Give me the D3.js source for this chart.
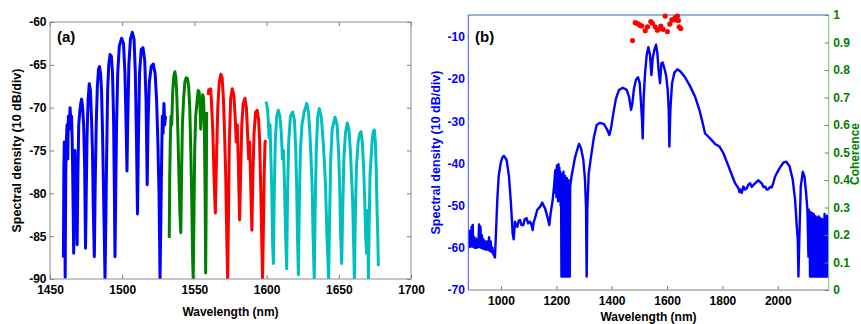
<!DOCTYPE html>
<html><head><meta charset="utf-8">
<script src="https://cdn.jsdelivr.net/npm/d3@7"></script>
<style>
html,body{margin:0;padding:0;background:#fff;}
svg{display:block;font-family:"Liberation Sans",Arial,sans-serif;font-weight:bold;}
</style></head><body>
<svg id="c" width="861" height="324"></svg>
<script>
// ---------- Panel (a) data: [wavelength nm, dB] ----------
const aXTicks = [1450,1500,1550,1600,1650,1700];
const aYTicks = [-90,-85,-80,-75,-70,-65,-60];
const aBlue = [[1459.3,-87.5],[1459.6,-77],[1459.9,-74],[1460.2,-80],[1460.5,-89.8],[1460.9,-78],[1461.3,-74],[1461.8,-72],[1462.3,-76],[1462.7,-71],[1463.3,-72.5],[1463.9,-70],[1464.4,-71.5],[1464.9,-71],[1465.4,-74],[1465.9,-80],[1466.4,-87],[1466.9,-80],[1467.3,-75],[1467.8,-78],[1468.3,-82],[1468.8,-86],[1469.3,-78],[1469.9,-72],[1470.6,-70.5],[1471.3,-69.5],[1471.9,-69],[1472.6,-70],[1473.3,-72],[1474.0,-77],[1474.6,-86.4],[1475.1,-80],[1475.7,-73],[1476.4,-69],[1477.2,-67.2],[1478.0,-68],[1478.7,-71],[1479.4,-75],[1480.0,-82],[1480.7,-87.4],[1481.3,-79],[1482.0,-72],[1482.8,-67.5],[1483.6,-65.5],[1484.3,-65.2],[1485.0,-66],[1485.7,-68],[1486.4,-73],[1487.1,-80],[1487.7,-86],[1488.1,-90],[1488.6,-84],[1489.2,-76],[1489.9,-68],[1490.7,-65],[1491.6,-63.8],[1492.5,-64],[1493.3,-66],[1494.0,-71],[1494.6,-80],[1495.0,-87.4],[1495.5,-80],[1496.1,-72],[1496.9,-66],[1498.0,-62.8],[1499.6,-61.9],[1500.9,-62.5],[1501.9,-66],[1502.7,-72],[1503.3,-77.4],[1503.8,-72],[1504.6,-65],[1505.7,-62],[1507.0,-61.2],[1508.2,-62],[1509.1,-66],[1509.9,-74],[1510.6,-82.4],[1511.2,-74],[1512.0,-66],[1513.2,-63.2],[1514.4,-63],[1515.6,-64.5],[1516.5,-69],[1517.3,-79],[1517.9,-72],[1518.8,-67],[1520.1,-65.2],[1521.5,-64.9],[1522.8,-66],[1523.8,-69],[1524.7,-74],[1525.5,-80],[1526.2,-90],[1526.7,-84],[1527.3,-76],[1527.8,-71],[1528.3,-73],[1528.9,-69.5],[1529.5,-72],[1530,-71]];
const aGreen = [[1532.6,-85.2],[1532.9,-78],[1533.3,-74],[1533.8,-71],[1534.3,-72],[1535.0,-68],[1535.8,-66.2],[1536.5,-65.8],[1537.2,-66.5],[1537.9,-69],[1538.6,-73],[1539.3,-78],[1539.9,-82],[1540.6,-84.6],[1541.1,-78],[1541.7,-72],[1542.5,-69],[1543.4,-67],[1544.3,-66.5],[1545.2,-66.6],[1546.0,-67.5],[1546.8,-70],[1547.5,-75],[1548.2,-81],[1548.8,-88],[1549.2,-90],[1549.6,-84],[1550.2,-75],[1550.9,-71],[1551.7,-69.5],[1552.6,-68],[1553.3,-68.2],[1553.9,-70],[1554.4,-72.5],[1555.0,-70],[1555.7,-68.5],[1556.3,-68.8],[1556.9,-72],[1557.4,-80],[1557.8,-89.3],[1558.2,-80],[1558.5,-70.5]];
const aRed = [[1559.5,-68.5],[1559.9,-67.9],[1560.6,-68.2],[1561.3,-67.8],[1562.0,-70],[1562.8,-73],[1563.6,-78],[1564.5,-82.3],[1565.3,-76],[1566.2,-70],[1567.2,-67],[1568.3,-66.1],[1569.2,-66.5],[1570.1,-69],[1570.9,-73],[1571.7,-78],[1572.4,-85],[1573.0,-90],[1573.5,-84],[1574.2,-74],[1575.1,-69],[1576.2,-67.8],[1577.3,-68.5],[1578.2,-71],[1579.0,-74],[1579.7,-72],[1580.5,-77],[1581.3,-83.1],[1582.0,-78],[1582.8,-72],[1583.8,-69.5],[1585.0,-68.9],[1586.0,-70],[1586.8,-73],[1587.6,-76],[1588.3,-74],[1589.0,-79],[1589.8,-84.3],[1590.5,-78],[1591.3,-73],[1592.4,-70.5],[1593.5,-70.3],[1594.5,-71.5],[1595.2,-74],[1595.9,-79],[1596.6,-85],[1597.2,-90],[1597.7,-85],[1598.3,-78],[1598.9,-74],[1599.6,-73.8]];
const aCyan = [[1599.6,-69.3],[1600.3,-69.8],[1601.0,-71],[1601.7,-73.5],[1602.4,-72],[1603.0,-76],[1603.6,-80],[1604.2,-86],[1604.7,-88.2],[1605.3,-80],[1606.0,-74],[1607.0,-71],[1608.1,-70.3],[1609.2,-71],[1610.2,-73],[1611.0,-76],[1611.7,-75],[1612.4,-79],[1613.2,-85],[1613.9,-88.8],[1614.5,-80],[1615.3,-74],[1616.5,-71],[1618.1,-70.5],[1619.3,-71.5],[1620.2,-75],[1620.8,-79],[1621.4,-85],[1622.0,-89.5],[1622.6,-82],[1623.4,-75],[1624.5,-72],[1626.0,-70.5],[1627.8,-69.5],[1629.0,-70.5],[1630.0,-73],[1630.8,-76],[1631.5,-79],[1632.2,-85],[1633.0,-90],[1633.6,-82],[1634.4,-75],[1635.4,-71],[1636.5,-70.1],[1637.8,-71],[1639.0,-73.5],[1639.9,-76],[1640.8,-79],[1641.8,-85],[1643.0,-90],[1643.6,-83],[1644.4,-76],[1645.4,-72.5],[1647.4,-71.1],[1648.8,-72],[1649.8,-75],[1650.6,-79],[1651.3,-85],[1652.0,-88.2],[1652.7,-82],[1653.5,-76],[1654.6,-73],[1655.9,-71.8],[1657.0,-72.5],[1658.0,-75],[1658.8,-78],[1659.6,-81],[1660.3,-86],[1660.8,-90],[1661.4,-83],[1662.2,-77],[1663.4,-74],[1664.5,-73],[1665.4,-72.8],[1666.3,-74],[1667.2,-77],[1668.0,-81],[1668.6,-85],[1669.3,-87],[1669.8,-82],[1670.2,-86],[1670.5,-90],[1671.0,-84],[1671.6,-78],[1672.3,-76],[1673.0,-74],[1673.8,-72.8],[1674.6,-72.6],[1675.3,-74],[1675.9,-77],[1676.5,-82],[1677.0,-85],[1677.4,-88.5]];

// ---------- Panel (b) data ----------
const bXTicks = [1000,1200,1400,1600,1800,2000];
const bYTicks = [-70,-60,-50,-40,-30,-20,-10];
const bCohTicks = [0,0.1,0.2,0.3,0.4,0.5,0.6,0.7,0.8,0.9,1];
const bSpecStart = [[882,-57],[884,-59.5],[886,-56],[888,-59.8],[890,-57.5],[892,-59.7],[894,-55],[896,-59.5],[898,-54.6],[900,-59.8],[903,-57.5],[906,-60],[909,-57.8],[912,-60],[915,-58],[918,-59.8],[921,-54.5],[923,-59.8],[926,-55],[928,-60],[931,-57],[934,-60.2],[937,-58],[940,-60.3],[943,-58.5],[946,-60.5],[950,-58.5],[954,-60.5],[957,-57.5],[960,-60.8],[963,-58.5],[966,-61],[969,-60],[972,-61.5],[975,-61.8],[978.3,-62.3]];
const bSpecMid1 = [[981.9,-56.6],[986.7,-48.7],[991.6,-43.1],[998.8,-40],[1005,-38.6],[1010.8,-38.2],[1020.5,-39.2],[1028.9,-43.1],[1036.1,-49.5],[1042.2,-56.6],[1045.8,-58],[1050.6,-53.8],[1055,-54.8],[1059,-55],[1064,-53.6],[1068.7,-53.4],[1074,-54.6],[1080.7,-54.6],[1086,-53.2],[1092.8,-53],[1098,-54.2],[1104.8,-53.8],[1110,-54.5],[1114.5,-55.8],[1118,-54],[1122.9,-53],[1131.3,-51],[1141,-50.3],[1149.4,-49.3],[1154,-50],[1159,-50.6],[1167.5,-52.6],[1174.7,-54.6],[1179.5,-51.8],[1186.7,-48.7],[1191.6,-45.5],[1196.4,-41.6]];
const bSpecNoise1 = [[1197.5,-47],[1199,-41.5],[1200.5,-48],[1202,-40.5],[1203.5,-46],[1205,-41],[1206.5,-49],[1208,-40.2],[1209.5,-47],[1211,-41],[1212.5,-48],[1214,-42],[1215.5,-50],[1217,-42.5],[1218.5,-66.8],[1220,-42.5],[1221.5,-66.8],[1223,-43],[1224.5,-66.8],[1226,-42],[1227.5,-66.8],[1229,-44],[1230.5,-66.8],[1232,-43],[1233.5,-66.8],[1235,-44.5],[1236.5,-66.8],[1238,-43.5],[1239.5,-66.8],[1241,-45],[1242.5,-66.8],[1244,-44],[1245.5,-66.8],[1247,-46],[1248.5,-66.8],[1250,-45.5]];
const bSpecMid2 = [[1255,-43],[1261.4,-40.8],[1267,-38.8],[1273.5,-37.2],[1281.9,-35.4],[1289.2,-36.4],[1297.6,-39.2],[1303.6,-43.9],[1307.2,-50.3],[1309.6,-66.8],[1312,-51],[1316.9,-42.4],[1325.3,-38.4],[1336.1,-33.7],[1345.8,-30.9],[1357.8,-30.4],[1372.3,-30.7],[1384.3,-32.1],[1391.6,-33.3],[1397.6,-31.7],[1406,-28.1],[1415.6,-24.6],[1426.5,-22.6],[1439.8,-22.1],[1454.2,-22.6],[1462.6,-24.2],[1469.9,-27.3],[1474.7,-25.8],[1480.7,-22.2],[1487.9,-20.2],[1495.2,-19.6],[1501.2,-21],[1506,-25.8],[1509.6,-29.7],[1512,-34.1],[1515.7,-24.2],[1520.5,-18.7],[1526.5,-14.3],[1532.5,-12.5],[1538.5,-14.3],[1543.4,-19.1],[1548.2,-15.1],[1554.2,-13.1],[1560.2,-11.9],[1565,-13.9],[1569.9,-18.3],[1574.7,-21],[1579.5,-16.3],[1584.3,-16.1],[1590.4,-17.5],[1596.4,-19.1],[1602.4,-22.6],[1606,-27.3],[1608.4,-36],[1612,-27.3],[1618.1,-21],[1626.5,-18.5],[1637.3,-17.7],[1649.4,-18.3],[1665,-19.6],[1683.1,-21.7],[1701.2,-24.2],[1716.8,-27.3],[1728.9,-30.5],[1737.3,-32.9],[1749.4,-33.7],[1761.4,-34.5],[1773.5,-35.4],[1789.1,-36],[1803.6,-37.6],[1818,-40],[1833.7,-42.7],[1845.8,-44.7],[1857.8,-45.9],[1862,-46.8],[1866.3,-46.2],[1870,-47],[1875.9,-45.5],[1882,-46.2],[1888,-45.9],[1894,-45],[1900,-44.7],[1906,-45.6],[1912,-45.1],[1920,-44.6],[1930.1,-44],[1936,-44.4],[1942.2,-44.7],[1948,-45.6],[1954.2,-45.5],[1960,-46.2],[1966.2,-46.1],[1972,-45.6],[1978.3,-45.7],[1984,-44.6],[1990.3,-43.1],[2006,-41.2],[2020.5,-39.8],[2030.1,-39.6],[2042.2,-40.6],[2054.2,-43.9],[2062.7,-48.7],[2068.7,-55],[2072.3,-58.2],[2074.7,-66.8],[2078.3,-56.6],[2083.1,-45.5],[2090.4,-42],[2096.4,-43.1],[2102.4,-47.1],[2107.2,-51]];
const bSpecNoise2 = [[2110.8,-62.1],[2112,-51],[2113.5,-62],[2115,-52],[2116.5,-66.8],[2118,-51.5],[2119.5,-66.8],[2121,-52.5],[2122.5,-66.8],[2124,-51.8],[2125.5,-66.8],[2127,-53],[2128.5,-66.8],[2130,-52],[2131.5,-66.8],[2133,-53.2],[2134.5,-66.8],[2136,-52.5],[2137.5,-66.8],[2139,-53.5],[2140.5,-66.8],[2142,-52.8],[2143.5,-66.8],[2145,-53.6],[2146.5,-66.8],[2148,-52.6],[2149.5,-66.8],[2151,-53.4],[2152.5,-66.8],[2154,-53],[2155.5,-66.8],[2157,-53.8],[2158.5,-66.8],[2160,-53.2],[2161.5,-66.8],[2163,-54],[2164.5,-66.8],[2166,-53.2],[2167.5,-66.8],[2169,-52],[2170.5,-66.8],[2172,-53.5],[2173.5,-66.8],[2175,-53],[2176.5,-66.8],[2178,-52.4],[2179.5,-66.8],[2181,-53],[2182.5,-66.8],[2184,-53]];
const bCoherence = [[1475.2,0.907],[1485,0.972],[1490,0.970],[1496.9,0.967],[1503,0.962],[1509,0.960],[1521,0.943],[1529.3,0.957],[1541.5,0.976],[1547,0.970],[1557,0.957],[1565.3,0.945],[1571,0.950],[1577.5,0.960],[1585.9,0.948],[1593.1,0.996],[1601.4,0.940],[1610,0.967],[1617.3,0.982],[1625,0.982],[1629.2,0.991],[1637.5,0.996],[1641,0.980],[1643.6,0.957],[1649.7,0.951]];

const svg = d3.select("#c");
const FONT = 12;

// ================= Panel (a) =================
const ax = d3.scaleLinear().domain([1450,1700]).range([50,411]);
const ay = d3.scaleLinear().domain([-90,-60]).range([279,22]);
const ga = svg.append("g");
ga.append("defs").append("clipPath").attr("id","clipA").append("rect")
  .attr("x",50).attr("y",22).attr("width",361).attr("height",257);
const lineA = d3.line().x(d=>ax(d[0])).y(d=>ay(d[1]));
const aSeries = [[aBlue,"#0000ff"],[aGreen,"#008000"],[aRed,"#ff0000"],[aCyan,"#00bfbf"]];
const aLines = ga.append("g").attr("clip-path","url(#clipA)");
aSeries.forEach(([data,col])=>{
  aLines.append("path").attr("d",lineA(data)).attr("fill","none")
    .attr("stroke",col).attr("stroke-width",3).attr("stroke-linejoin","round");
});
const fmt = d=>String(d);
const styleAxis = (g,col,tcol)=>{
  g.select(".domain").remove();
  g.selectAll(".tick line").attr("stroke",col);
  g.selectAll(".tick text").attr("fill",tcol).attr("font-size",FONT)
    .attr("font-weight","bold").attr("font-family","Liberation Sans, Arial, sans-serif");
};
ga.append("g").attr("transform","translate(0,279)")
  .call(d3.axisBottom(ax).tickValues(aXTicks).tickFormat(fmt).tickSize(-4).tickPadding(6))
  .call(g=>styleAxis(g,"#808080","#000"));
ga.append("g").attr("transform","translate(0,22)")
  .call(d3.axisTop(ax).tickValues(aXTicks).tickFormat("").tickSize(-4))
  .call(g=>styleAxis(g,"#808080","#000"));
ga.append("g").attr("transform","translate(50,0)")
  .call(d3.axisLeft(ay).tickValues(aYTicks).tickFormat(fmt).tickSize(-4).tickPadding(3.5))
  .call(g=>styleAxis(g,"#808080","#000"));
ga.append("g").attr("transform","translate(411,0)")
  .call(d3.axisRight(ay).tickValues(aYTicks).tickFormat("").tickSize(-4))
  .call(g=>styleAxis(g,"#808080","#000"));
ga.append("rect").attr("x",50).attr("y",22).attr("width",361).attr("height",257)
  .attr("fill","none").attr("stroke","#8c8c8c").attr("stroke-width",1);
ga.append("text").attr("x",57).attr("y",42).attr("font-size",15).attr("fill","#000").text("(a)");
ga.append("text").attr("x",230.5).attr("y",315.5).attr("text-anchor","middle")
  .attr("font-size",FONT).attr("fill","#000").text("Wavelength (nm)");
ga.append("text").attr("transform","translate(21,150.5) rotate(-90)").attr("text-anchor","middle")
  .attr("font-size",12.5).attr("fill","#000").text("Spectral density (10 dB/div)");

// ================= Panel (b) =================
const bx = d3.scaleLinear().domain([882,2184]).range([468.3,828.7]);
const by = d3.scaleLinear().domain([-70,-4.85]).range([290,15]);
const bc = d3.scaleLinear().domain([0,1]).range([290,15]);
const gb = svg.append("g");
gb.append("defs").append("clipPath").attr("id","clipB").append("rect")
  .attr("x",468.3).attr("y",15).attr("width",360.4).attr("height",275);
const spec = bSpecStart.concat(bSpecMid1, bSpecNoise1, bSpecMid2, bSpecNoise2);
const lineB = d3.line().x(d=>bx(d[0])).y(d=>by(d[1]));
gb.append("path").attr("clip-path","url(#clipB)").attr("d",lineB(spec)).attr("fill","none")
  .attr("stroke","#0000ff").attr("stroke-width",2.4).attr("stroke-linejoin","round");

// axes lines
gb.append("line").attr("x1",468.3).attr("x2",828.7).attr("y1",15).attr("y2",15).attr("stroke","#2b6cb8").attr("stroke-width",1);
gb.append("line").attr("x1",468.3).attr("x2",828.7).attr("y1",290).attr("y2",290).attr("stroke","#808080").attr("stroke-width",1);
gb.append("line").attr("x1",468.3).attr("x2",468.3).attr("y1",15).attr("y2",290).attr("stroke","#4a4aff").attr("stroke-width",1);
gb.append("line").attr("x1",828.7).attr("x2",828.7).attr("y1",15).attr("y2",290).attr("stroke","#7cc47c").attr("stroke-width",1);

gb.append("g").attr("transform","translate(0,290)")
  .call(d3.axisBottom(bx).tickValues(bXTicks).tickFormat(fmt).tickSize(-4).tickPadding(6.5))
  .call(g=>styleAxis(g,"#808080","#000"));
gb.append("g").attr("transform","translate(468.3,0)")
  .call(d3.axisLeft(by).tickValues(bYTicks).tickFormat(fmt).tickSize(0).tickPadding(3.5))
  .call(g=>styleAxis(g,"#0000ff","#0000ff"));
gb.append("g").attr("transform","translate(828.7,0)")
  .call(d3.axisRight(bc).tickValues(bCohTicks).tickFormat(fmt).tickSize(-4).tickPadding(4.5))
  .call(g=>styleAxis(g,"#4aa04a","#008000"));

// coherence dots
gb.append("g").selectAll("circle").data(bCoherence).join("circle")
  .attr("cx",d=>bx(d[0])).attr("cy",d=>bc(d[1])).attr("r",2.6).attr("fill","#ff0000");

gb.append("text").attr("x",475).attr("y",42).attr("font-size",15).attr("fill","#000").text("(b)");
gb.append("text").attr("x",648.5).attr("y",321).attr("text-anchor","middle")
  .attr("font-size",FONT).attr("fill","#000").text("Wavelength (nm)");
gb.append("text").attr("transform","translate(439.5,152.5) rotate(-90)").attr("text-anchor","middle")
  .attr("font-size",12.5).attr("fill","#0000ff").text("Spectral density (10 dB/div)");
gb.append("text").attr("transform","translate(859,154) rotate(-90)").attr("text-anchor","middle")
  .attr("font-size",FONT).attr("fill","#008000").text("Coherence");
</script>
</body></html>
